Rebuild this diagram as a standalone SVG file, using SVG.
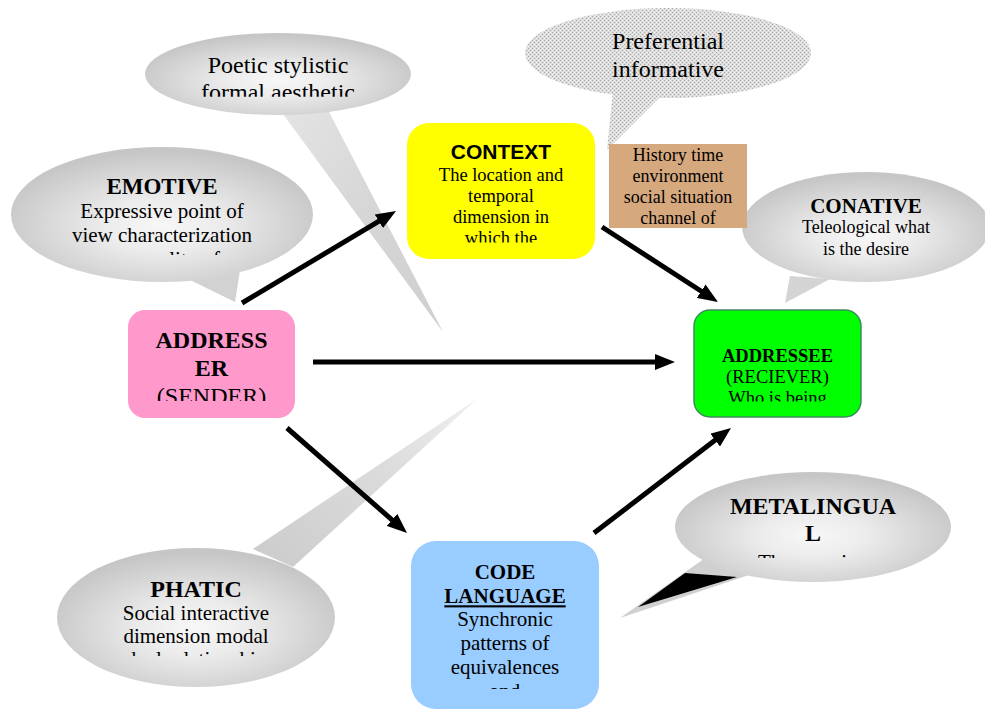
<svg xmlns="http://www.w3.org/2000/svg" width="985" height="709" viewBox="0 0 985 709">
<style>
.s{font-family:"Liberation Serif","Times New Roman",serif;fill:#000;text-anchor:middle}
.b{font-weight:bold}
.h{font-family:"Liberation Sans",Arial,sans-serif;font-weight:bold;fill:#000;text-anchor:middle}
.conn line{stroke:#000;stroke-width:5;stroke-linecap:butt;marker-end:url(#ah)}
.bal{fill:url(#balG)}
</style>
<defs>
<radialGradient id="balG" cx="0.5" cy="0.58" r="0.55">
<stop offset="0" stop-color="#f7f7f7"/>
<stop offset="0.35" stop-color="#ececec"/>
<stop offset="1" stop-color="#c6c6c6"/>
</radialGradient>
<linearGradient id="tailA" x1="0" y1="0" x2="1" y2="1">
<stop offset="0" stop-color="#e4e4e4"/>
<stop offset="0.5" stop-color="#d6d6d6"/>
<stop offset="1" stop-color="#cfcfcf"/>
</linearGradient>
<linearGradient id="tailP" x1="0" y1="1" x2="1" y2="0">
<stop offset="0" stop-color="#cbcbcb"/>
<stop offset="0.6" stop-color="#dcdcdc"/>
<stop offset="1" stop-color="#f0f0f0"/>
</linearGradient>
<pattern id="dots" width="4" height="4" patternUnits="userSpaceOnUse">
<rect width="4" height="4" fill="#dddddd"/>
<rect x="0" y="0" width="1" height="1" fill="#a8a8a8"/>
<rect x="2" y="2" width="1" height="1" fill="#a8a8a8"/>
<rect x="2" y="0" width="1" height="1" fill="#f2f2f2"/>
<rect x="0" y="2" width="1" height="1" fill="#f2f2f2"/>
</pattern>
<marker id="ah" markerUnits="userSpaceOnUse" markerWidth="20" markerHeight="16" refX="8" refY="8" orient="auto">
<path d="M0,0 L20,8 L0,16 z" fill="#000"/>
</marker>
<clipPath id="cPoetic"><rect x="100" y="30" width="360" height="66.7"/></clipPath>
<clipPath id="cEmotive"><rect x="0" y="170" width="330" height="85"/></clipPath>
<clipPath id="cPhatic"><rect x="40" y="570" width="320" height="86"/></clipPath>
<clipPath id="cMeta"><rect x="660" y="490" width="320" height="68"/></clipPath>
<clipPath id="cSender"><rect x="128" y="310" width="167" height="91"/></clipPath>
<clipPath id="cContext"><rect x="407" y="123" width="188" height="119.5"/></clipPath>
<clipPath id="cAddressee"><rect x="694" y="310" width="167" height="91.5"/></clipPath>
<clipPath id="cCode"><rect x="411" y="541" width="188" height="148"/></clipPath>
</defs>
<rect width="985" height="709" fill="#fff"/>

<g id="poetic">
<polygon points="280,110 328,110 443,332" fill="url(#tailA)"/>
<ellipse class="bal" cx="278" cy="74" rx="133" ry="41"/>
<g clip-path="url(#cPoetic)">
<text class="s" font-size="24" x="278" y="72.7">Poetic stylistic</text>
<text class="s" font-size="24" x="278" y="100.2">formal aesthetic</text>
</g>
</g>

<g id="referential">
<polygon points="613,90 667,90 607,150" fill="url(#dots)"/>
<ellipse cx="668" cy="53" rx="143" ry="45" fill="url(#dots)"/>
<text class="s" font-size="24" x="668" y="49.3">Preferential</text>
<text class="s" font-size="24" x="668" y="76.7">informative</text>
</g>

<g id="emotive">
<polygon points="186,278 240,270 235,302" fill="#d2d2d2"/>
<ellipse class="bal" cx="162" cy="214.5" rx="151" ry="67.5"/>
<g clip-path="url(#cEmotive)">
<text class="s b" font-size="23" x="162" y="194.3">EMOTIVE</text>
<text class="s" font-size="21" x="162" y="218.3">Expressive point of</text>
<text class="s" font-size="21" x="162" y="242.3">view characterization</text>
<text class="s" font-size="21" x="162" y="266.3">personality of</text>
</g>
</g>

<g id="conative">
<polygon points="790,276 830,279 785,303" fill="#d4d4d4"/>
<ellipse class="bal" cx="866" cy="227" rx="124" ry="55"/>
<text class="s b" font-size="21" x="866" y="213.3">CONATIVE</text>
<text class="s" font-size="18" x="866" y="233.3">Teleological what</text>
<text class="s" font-size="18" x="866" y="255">is the desire</text>
</g>

<g id="phatic">
<polygon points="253,549 293,567 477,399" fill="url(#tailP)"/>
<ellipse class="bal" cx="196" cy="617.5" rx="139" ry="69.5"/>
<g clip-path="url(#cPhatic)">
<text class="s b" font-size="24" x="196" y="596.7">PHATIC</text>
<text class="s" font-size="21" x="196" y="620">Social interactive</text>
<text class="s" font-size="21" x="196" y="642.7">dimension modal</text>
<text class="s" font-size="21" x="196" y="665.7">dual relationship</text>
</g>
</g>

<g id="metalingual">
<polygon points="708,556 755,573 620,618" fill="#d0d0d0"/>
<polygon points="685,573 737,577 638,607" fill="#000"/>
<ellipse class="bal" cx="813" cy="527" rx="138" ry="55"/>
<g clip-path="url(#cMeta)">
<text class="s b" font-size="24" x="813" y="514.3">METALINGUA</text>
<text class="s b" font-size="24" x="813" y="541">L</text>
<text class="s" font-size="21" x="813" y="569">The meaning</text>
</g>
</g>

<g id="addresser">
<rect x="128" y="310" width="167" height="108" rx="17" fill="#ff99cc"/>
<g clip-path="url(#cSender)">
<text class="s b" font-size="24" x="211.5" y="348.3">ADDRESS</text>
<text class="s b" font-size="24" x="211.5" y="376">ER</text>
<text class="s" font-size="24" x="211.5" y="403.5">(SENDER)</text>
</g>
</g>

<g id="context">
<rect x="407" y="123" width="188" height="136" rx="22" fill="#ffff00"/>
<g clip-path="url(#cContext)">
<text class="h" font-size="21" x="501" y="158.7">CONTEXT</text>
<text class="s" font-size="18.5" x="501" y="181">The location and</text>
<text class="s" font-size="18.5" x="501" y="201.7">temporal</text>
<text class="s" font-size="18.5" x="501" y="222.7">dimension in</text>
<text class="s" font-size="18.5" x="501" y="243.8">which the</text>
</g>
</g>

<g id="history">
<rect x="609" y="144" width="138" height="84" fill="#d6a87e"/>
<text class="s" font-size="18" x="678" y="161">History time</text>
<text class="s" font-size="18" x="678" y="182.3">environment</text>
<text class="s" font-size="18" x="678" y="203.3">social situation</text>
<text class="s" font-size="18" x="678" y="224.3">channel of</text>
</g>

<g id="addressee">
<rect x="694" y="310" width="167" height="107" rx="16" fill="#00ff00" stroke="#3c8c5c" stroke-width="1.5"/>
<g clip-path="url(#cAddressee)">
<text class="s b" font-size="18.5" x="777.5" y="361.7">ADDRESSEE</text>
<text class="s" font-size="18.5" x="777.5" y="382.7">(RECIEVER)</text>
<text class="s" font-size="18.5" x="777.5" y="404">Who is being</text>
</g>
</g>

<g id="code">
<rect x="411" y="541" width="188" height="168" rx="25" fill="#99ccff"/>
<g clip-path="url(#cCode)">
<text class="s b" font-size="21" x="505" y="579.3">CODE</text>
<text class="s b" font-size="21" x="505" y="603.3" text-decoration="underline">LANGUAGE</text>
<text class="s" font-size="21" x="505" y="626">Synchronic</text>
<text class="s" font-size="21" x="505" y="650">patterns of</text>
<text class="s" font-size="21" x="505" y="674">equivalences</text>
<text class="s" font-size="21" x="505" y="698">and</text>
</g>
</g>

<g id="connectors" class="conn">
<line x1="242" y1="303" x2="385.7" y2="217.2"/>
<line x1="602" y1="227" x2="707.9" y2="295.5"/>
<line x1="313" y1="362" x2="663" y2="362"/>
<line x1="287" y1="428" x2="398" y2="525.1"/>
<line x1="594" y1="533" x2="721.5" y2="435.3"/>
</g>
</svg>
